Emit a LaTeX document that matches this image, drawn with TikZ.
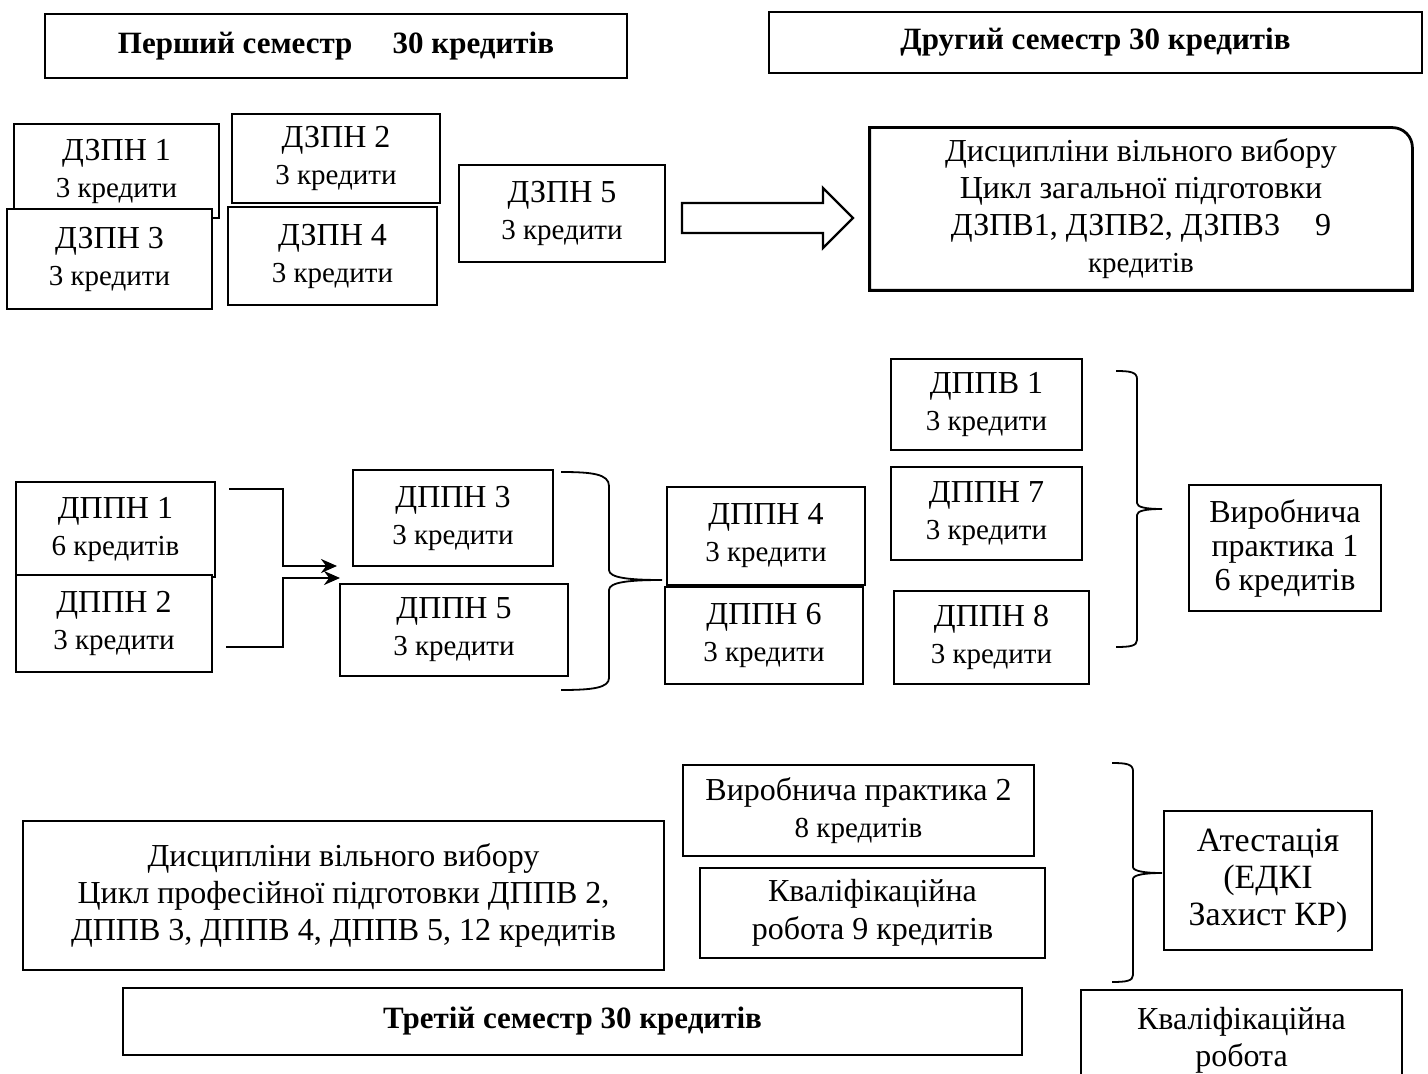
\documentclass[tikz,border=0pt]{standalone}
\usepackage{fontspec}
\setmainfont{Liberation Serif}
\usetikzlibrary{arrows.meta}

\tikzset{
  rect/.style args={#1/#2/#3/#4}{at={({(#1+#3)/2},{(#2+#4)/2})},
    minimum width={(#3-#1)*0.5pt}, minimum height={(#4-#2)*0.5pt}},
  blk/.style={draw, line width=1.4pt, fill=white, inner sep=0pt, align=center,
    font=\fontsize{16}{18.5}\selectfont},
  hdr/.style={blk, font=\bfseries\fontsize{15.5}{18}\selectfont},
  lnk/.style={line width=1.3pt, -{Stealth[length=8pt,width=7pt]}},
  brc/.style={line width=0.9pt},
}
\newcommand{\kr}[1]{{\fontsize{14.5}{17}\selectfont #1}}

\begin{document}
\begin{tikzpicture}[x=0.5pt, y=-0.5pt]
	\useasboundingbox (0,0) rectangle (1428,1074);

	% Заголовки семестрів
	\node[hdr, rect=45/14/627/78] (sem1) {Перший семестр\hspace{1.3em}30 кредитів};
	\node[hdr, rect=769/12/1422/73] (sem2) {Другий семестр 30 кредитів};
	\node[hdr, rect=123/988/1022/1055] (sem3) {Третій семестр 30 кредитів};

	% Цикл загальної підготовки
	\node[blk, rect=14/124/219/218] (dzpn1) {ДЗПН 1\\ \kr{3 кредити}};
	\node[blk, rect=232/114/440/203] (dzpn2) {ДЗПН 2\\ \kr{3 кредити}};
	\node[blk, rect=7/209/212/309] (dzpn3) {ДЗПН 3\\ \kr{3 кредити}};
	\node[blk, rect=228/207/437/305] (dzpn4) {ДЗПН 4\\ \kr{3 кредити}};
	\node[blk, rect=459/165/665/262] (dzpn5) {ДЗПН 5\\ \kr{3 кредити}};

	\draw[line width=1.2pt, fill=white] (682,203) -- (823,203) -- (823,188) -- (853,218)
		-- (823,248) -- (823,233) -- (682,233) -- cycle;

	\node[blk, draw=none, rect=871/129/1411/289] (dzpv) {Дисципліни вільного вибору\\
		Цикл загальної підготовки\\ ДЗПВ1, ДЗПВ2, ДЗПВ3\hspace{1.1em}9\\ \kr{кредитів}};
	\draw[line width=1.4pt] (dzpv.north west) -- ([xshift=-10pt]dzpv.north east)
		arc[start angle=90, end angle=0, radius=10pt] -- (dzpv.south east)
		-- (dzpv.south west) -- cycle;

	% Цикл професійної підготовки
	\node[blk, rect=16/482/215/577] (dppn1) {ДППН 1\\ \kr{6 кредитів}};
	\node[blk, rect=16/575/212/672] (dppn2) {ДППН 2\\ \kr{3 кредити}};
	\node[blk, rect=353/470/553/566] (dppn3) {ДППН 3\\ \kr{3 кредити}};
	\node[blk, rect=340/584/568/676] (dppn5) {ДППН 5\\ \kr{3 кредити}};
	\node[blk, rect=667/487/865/585] (dppn4) {ДППН 4\\ \kr{3 кредити}};
	\node[blk, rect=665/587/863/684] (dppn6) {ДППН 6\\ \kr{3 кредити}};
	\node[blk, rect=891/359/1082/450] (dppv1) {ДППВ 1\\ \kr{3 кредити}};
	\node[blk, rect=891/467/1082/560] (dppn7) {ДППН 7\\ \kr{3 кредити}};
	\node[blk, rect=894/591/1089/684] (dppn8) {ДППН 8\\ \kr{3 кредити}};
	\node[blk, rect=1189/485/1381/611, font=\fontsize{16}{17}\selectfont] (vp1)
		{Виробнича\\ практика 1\\ 6 кредитів};

	% Стрілки
	\coordinate (a1) at (229,489);
	\coordinate (a2) at (226,647);
	\coordinate (e1) at (337,566);
	\coordinate (e2) at (340,578);
	\draw[lnk] (a1) -- ++(54,0) |- (e1);
	\draw[lnk] (a2) -- ++(57,0) |- (e2);

	% Дужки
	\coordinate (b1) at (662,580);
	\coordinate (b2) at (1162,509);
	\coordinate (b3) at (1162,873);
	\draw[brc] (561,472) .. controls (592,472) and (609,474) .. (609,486) -- (609,570)
		.. controls (609,578) and (630,580) .. (b1) .. controls (630,580) and (609,582) .. (609,590)
		-- (609,678) .. controls (609,688) and (592,690) .. (561,690);
	\draw[brc] (1116,371) .. controls (1130,371) and (1137,372) .. (1137,379) -- (1137,503)
		.. controls (1137,507) and (1145,509) .. (b2) .. controls (1145,509) and (1137,511) .. (1137,515)
		-- (1137,640) .. controls (1137,646) and (1130,647) .. (1116,647);
	\draw[brc] (1112,763) .. controls (1126,763) and (1133,764) .. (1133,771) -- (1133,867)
		.. controls (1133,871) and (1144,873) .. (b3) .. controls (1144,873) and (1133,875) .. (1133,879)
		-- (1133,975) .. controls (1133,981) and (1126,982) .. (1112,982);

	% Третій семестр
	\node[blk, rect=683/765/1034/856] (vp2) {Виробнича практика 2\\ \kr{8 кредитів}};
	\node[blk, rect=700/868/1045/958, font=\fontsize{16}{19}\selectfont] (kr9)
		{Кваліфікаційна\\ робота 9 кредитів};
	\node[blk, rect=23/821/664/970] (dppv) {Дисципліни вільного вибору\\
		Цикл професійної підготовки ДППВ 2,\\ ДППВ 3, ДППВ 4, ДППВ 5, 12 кредитів};
	\node[blk, rect=1164/811/1372/950, font=\fontsize{17}{18.5}\selectfont] (ates)
		{Атестація\\ (ЕДКІ\\ Захист КР)};
	\node[blk, rect=1081/990/1402/1090, font=\fontsize{16}{18.5}\selectfont] (krob)
		{Кваліфікаційна\\ робота};
\end{tikzpicture}
\end{document}
